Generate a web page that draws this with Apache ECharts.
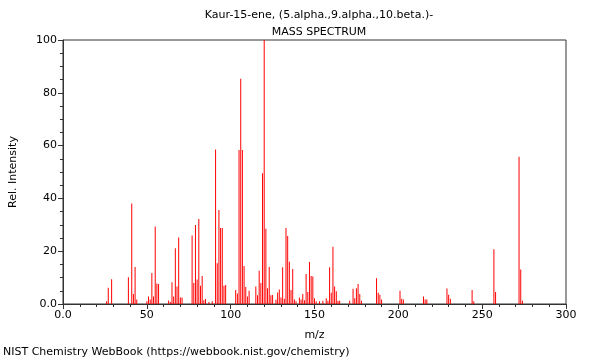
<!DOCTYPE html>
<html>
<head>
<meta charset="utf-8">
<script src="https://cdn.jsdelivr.net/npm/echarts@6/dist/echarts.min.js"></script>
<style>html,body{margin:0;padding:0;background:#fff;}#c{width:600px;height:360px;}</style>
</head>
<body>
<div id="c"></div>
<script>
const titleText = 'Kaur-15-ene, (5.alpha.,9.alpha.,10.beta.)-';
const subtitleText = 'MASS SPECTRUM';
const footerText = 'NIST Chemistry WebBook (https://webbook.nist.gov/chemistry)';
const xName = 'm/z';
const yName = 'Rel. Intensity';

const mz = [26,27,29,39,41,42,43,44,
  50,51,52,53,54,55,56,57,
  63,64,65,66,67,68,69,70,71,
  77,78,79,80,81,82,83,84,85,87,89,
  91,92,93,94,95,96,97,
  103,104,105,106,107,108,109,110,111,
  115,116,117,118,119,120,121,122,123,124,125,127,128,129,130,131,132,133,134,135,136,137,138,139,
  141,142,143,144,145,146,147,148,149,150,151,153,155,157,158,159,160,161,162,163,164,165,
  171,173,174,175,176,177,178,
  187,188,189,190,
  201,202,203,
  215,216,217,
  229,230,231,
  244,245,
  257,258,
  272,273,274];
const intensity = [1,6.2,9.4,10.1,38.1,3.8,14,1.7,
  1,2.8,1.7,11.7,2.8,29.4,7.8,7.6,
  1.3,0.8,8.2,2.8,21.1,6.6,25.2,2.5,2.5,
  25.9,8,29.9,9.3,32.2,6.9,10.6,1.4,1.9,0.8,1,
  58.5,15.4,35.6,28.8,28.8,6.9,7.2,
  5.3,4.0,58.3,85.3,58.3,14.4,6.4,2.8,5,
  6.6,3.3,12.6,8,49.5,100,28.5,6,14,3.3,3.4,1.6,4.4,5.5,2.5,13.9,2,28.8,25.8,16,5.3,13.3,1.7,1,
  2.5,1.7,3.8,1.4,11.4,4.5,15.9,10.6,10.4,2.2,1,1,1.2,2.2,1.2,13.9,4.3,21.7,6.6,4.8,1.2,1.2,
  1.2,5.8,2.2,6,7.6,3.8,1.2,
  9.8,4.3,3.5,1.7,
  5,2,1.7,
  2.8,1.7,1.7,
  5.9,3.5,2,
  5.3,1,
  20.7,4.5,
  55.8,13.1,1.2];

const chart = echarts.init(document.getElementById('c'));
const font = 'DejaVu Sans';
chart.setOption({
  animation: false,
  textStyle: {fontFamily: font},
  title: [
    {text: titleText, left: 314, top: 5, textAlign: 'center',
     textStyle: {fontSize: 11, fontWeight: 'normal', color: '#000', fontFamily: font}},
    {text: subtitleText, left: 314, top: 22, textAlign: 'center',
     textStyle: {fontSize: 11, fontWeight: 'normal', color: '#000', fontFamily: font}}
  ],
  graphic: [{type: 'text', left: 3, top: 347,
    style: {text: footerText, fontSize: 11, fill: '#000', fontFamily: font}}],
  grid: {left: 62, right: 34, top: 40, bottom: 56, show: true, borderColor: '#333', borderWidth: 1},
  xAxis: {
    type: 'value', min: 0, max: 300, interval: 50,
    name: xName, nameLocation: 'middle', nameGap: 26,
    nameTextStyle: {fontSize: 11, color: '#000'},
    axisLine: {show: true, lineStyle: {color: '#333'}},
    axisTick: {show: true, length: 5, lineStyle: {color: '#333'}},
    minorTick: {show: true, splitNumber: 5, length: 3, lineStyle: {color: '#333'}},
    splitLine: {show: false},
    axisLabel: {fontSize: 11, color: '#000', margin: 6,
      formatter: v => v === 0 ? '0.0' : String(v)}
  },
  yAxis: {
    type: 'value', min: 0, max: 100, interval: 20,
    name: yName, nameLocation: 'middle', nameGap: 44, nameRotate: 90,
    nameTextStyle: {fontSize: 11, color: '#000'},
    axisLine: {show: true, lineStyle: {color: '#333'}},
    axisTick: {show: true, length: 5, lineStyle: {color: '#333'}},
    minorTick: {show: true, splitNumber: 4, length: 3, lineStyle: {color: '#333'}},
    splitLine: {show: false},
    axisLabel: {fontSize: 11, color: '#000', margin: 6,
      formatter: v => v === 0 ? '0.0' : String(v)}
  },
  series: [{
    type: 'bar', barWidth: 1, silent: true,
    itemStyle: {color: '#ff0000'},
    data: mz.map((m, i) => [m, intensity[i]])
  }]
});
</script>
</body>
</html>
